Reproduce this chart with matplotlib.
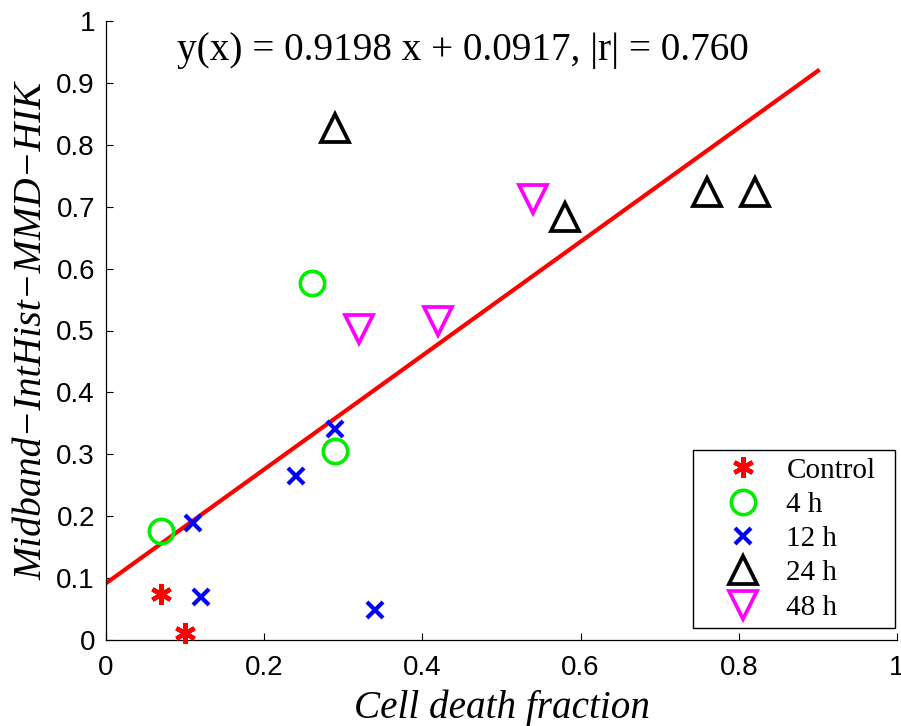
import matplotlib
matplotlib.use("Agg")
import matplotlib.pyplot as plt
import numpy as np
from matplotlib.lines import Line2D

# Data
control_x = [0.07, 0.10]
control_y = [0.074, 0.011]
h4_x = [0.07, 0.26, 0.29]
h4_y = [0.176, 0.577, 0.306]
h12_x = [0.11, 0.12, 0.24, 0.29, 0.34]
h12_y = [0.189, 0.069, 0.265, 0.341, 0.048]
h24_x = [0.29, 0.58, 0.76, 0.82]
h24_y = [0.827, 0.683, 0.724, 0.724]
h48_x = [0.32, 0.42, 0.54]
h48_y = [0.502, 0.516, 0.712]
fit_slope = 0.9198
fit_intercept = 0.0917
fit_xrange = [0.0, 0.9]
annotation = "y(x) = 0.9198 x + 0.0917, |r| = 0.760"
xticks = [0, 0.2, 0.4, 0.6, 0.8, 1]
xticklabels = ["0", "0.2", "0.4", "0.6", "0.8", "1"]
yticks = [0, 0.1, 0.2, 0.3, 0.4, 0.5, 0.6, 0.7, 0.8, 0.9, 1]
yticklabels = ["0", "0.1", "0.2", "0.3", "0.4", "0.5", "0.6", "0.7", "0.8", "0.9", "1"]
legend_labels = ["Control", "4 h", "12 h", "24 h", "48 h"]

serif = ["Liberation Serif", "DejaVu Serif"]
sans = ["Liberation Sans", "DejaVu Sans"]

fig = plt.figure(figsize=(9.01, 7.26), dpi=100)
ax = fig.add_axes([106/901, 86/726, 791/901, 619/726])

fx = np.array(fit_xrange)
ax.plot(fx, fit_slope*fx + fit_intercept, color="red", lw=3.0, zorder=2)

ast = (6, 2, 0)
ax.plot(control_x, control_y, ls="none", marker=ast, ms=15, mew=3.2,
        mec="red", mfc="red", zorder=3, clip_on=False)
ax.plot(h4_x, h4_y, ls="none", marker="o", ms=17.5, mew=2.6,
        mec="#00ee00", mfc="none", zorder=3)
ax.plot(h12_x, h12_y, ls="none", marker="x", ms=11, mew=3.0,
        mec="blue", zorder=3)
ax.plot(h24_x, h24_y, ls="none", marker="^", ms=20.5, mew=2.7,
        mec="black", mfc="none", zorder=3)
ax.plot(h48_x, h48_y, ls="none", marker="v", ms=20.5, mew=2.7,
        mec="magenta", mfc="none", zorder=3)

ax.text(0.09, 0.953, annotation, fontsize=28.2, family=serif,
        ha="left", va="center")

ax.set_xlim(0, 1)
ax.set_ylim(0, 1)
ax.set_xticks(xticks)
ax.set_xticklabels(xticklabels)
ax.set_yticks(yticks)
ax.set_yticklabels(yticklabels)
ax.spines["top"].set_visible(False)
ax.spines["right"].set_visible(False)
for s in ["left", "bottom"]:
    ax.spines[s].set_linewidth(0.9)
ax.tick_params(direction="in", length=5, width=0.8, labelsize=20)
ax.tick_params(axis="x", pad=11)
ax.tick_params(axis="y", pad=8)
for lab in ax.get_xticklabels() + ax.get_yticklabels():
    lab.set_family(sans)

ax.set_xlabel("Cell death fraction", fontsize=28.2, family=serif, style="italic", labelpad=6)
ax.set_ylabel("Midband\u2212IntHist\u2212MMD\u2212HIK", fontsize=28.6, family=serif,
              style="italic", labelpad=4)

handles = [
    Line2D([], [], ls="none", marker=ast, ms=15, mew=3.2, mec="red", mfc="red"),
    Line2D([], [], ls="none", marker="o", ms=17.5, mew=2.6, mec="#00ee00", mfc="none"),
    Line2D([], [], ls="none", marker="x", ms=11, mew=3.0, mec="blue"),
    Line2D([], [], ls="none", marker="^", ms=20.5, mew=2.7, mec="black", mfc="none"),
    Line2D([], [], ls="none", marker="v", ms=20.5, mew=2.7, mec="magenta", mfc="none"),
]
lx0 = (693 - 106) / 791
lx1 = (895 - 106) / 791
ly0 = (640 - 628) / 619
leg = ax.legend(handles, legend_labels, loc="lower left", mode="expand",
                bbox_to_anchor=(lx0, ly0, lx1 - lx0, 0.3), borderaxespad=0,
                prop={"family": serif, "size": 21}, fancybox=False,
                edgecolor="black", framealpha=1, handlelength=2.9,
                handletextpad=0.05, labelspacing=0.27, borderpad=0.25)
leg.get_frame().set_linewidth(1.0)

fig.savefig("out.png", dpi=100)
